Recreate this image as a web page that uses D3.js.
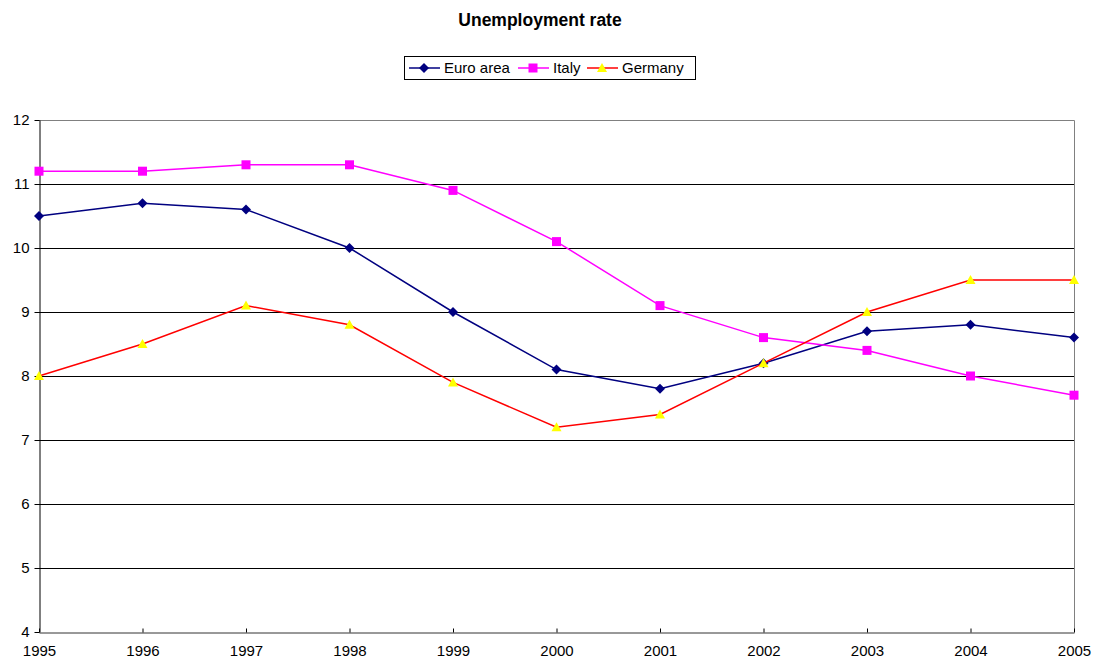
<!DOCTYPE html>
<html lang="en">
<head>
<meta charset="utf-8">
<script src="https://d3js.org/d3.v7.min.js"></script>
<style>
  body { margin: 0; background: #fff; }
  svg { font-family: "Liberation Sans", Arial, sans-serif; }
</style>
</head>
<body>
<svg width="1096" height="661"></svg>
<script>
  var years = [1995, 1996, 1997, 1998, 1999, 2000, 2001, 2002, 2003, 2004, 2005];
  var euroArea = [10.5, 10.7, 10.6, 10.0, 9.0, 8.1, 7.8, 8.2, 8.7, 8.8, 8.6];
  var italy = [11.2, 11.2, 11.3, 11.3, 10.9, 10.1, 9.1, 8.6, 8.4, 8.0, 7.7];
  var germany = [8.0, 8.5, 9.1, 8.8, 7.9, 7.2, 7.4, 8.2, 9.0, 9.5, 9.5];
  var yTicks = [4, 5, 6, 7, 8, 9, 10, 11, 12];

  var series = [
    { name: "Euro area", values: euroArea, line: "#000080", fill: "#000080", shape: "diamond" },
    { name: "Italy", values: italy, line: "#ff00ff", fill: "#ff00ff", shape: "square" },
    { name: "Germany", values: germany, line: "#ff0000", fill: "#ffff00", shape: "triangle" }
  ];

  var svg = d3.select("svg");
  var plotLeft = 39, plotRight = 1074, plotTop = 120, plotBottom = 632;

  var x = d3.scalePoint().domain(years).range([plotLeft, plotRight]);
  var y = d3.scaleLinear().domain([4, 12]).range([plotBottom, plotTop]);

  // title
  svg.append("text")
    .attr("x", 540).attr("y", 26)
    .attr("text-anchor", "middle")
    .attr("font-weight", "bold")
    .attr("font-size", "17.5px")
    .text("Unemployment rate");

  // gridlines
  svg.append("g")
    .selectAll("line")
    .data(yTicks.filter(function (d) { return d > 4 && d < 12; }))
    .enter().append("line")
    .attr("x1", plotLeft).attr("x2", plotRight)
    .attr("y1", function (d) { return y(d) + 0.5; })
    .attr("y2", function (d) { return y(d) + 0.5; })
    .attr("stroke", "#000").attr("stroke-width", 1);

  // top and right border
  svg.append("path")
    .attr("d", "M" + plotLeft + "," + (plotTop + 0.5) + "H" + (plotRight + 0.5) + "V" + plotBottom)
    .attr("fill", "none").attr("stroke", "#808080");

  // y axis
  var yAxis = svg.append("g")
    .attr("transform", "translate(" + (plotLeft + 0.5) + ",0)")
    .call(d3.axisLeft(y).tickValues(yTicks).tickSize(5).tickPadding(5).tickFormat(d3.format("d")).tickSizeOuter(0));
  yAxis.select(".domain").attr("stroke", "#000");
  yAxis.selectAll("text").attr("font-size", "15px").attr("fill", "#000")
    .attr("font-family", "Liberation Sans, Arial, sans-serif");

  // x axis
  var xAxis = svg.append("g")
    .attr("transform", "translate(0," + (plotBottom + 0.5) + ")")
    .call(d3.axisBottom(x).tickSize(-4).tickPadding(13).tickSizeOuter(0));
  xAxis.select(".domain").attr("stroke", "#333");
  xAxis.selectAll("text").attr("font-size", "15px").attr("fill", "#000")
    .attr("font-family", "Liberation Sans, Arial, sans-serif");

  var line = d3.line()
    .x(function (d, i) { return x(years[i]); })
    .y(function (d) { return y(d); });

  function marker(g, shape, fill) {
    if (shape === "diamond") {
      g.append("path").attr("d", "M0,-5L5,0L0,5L-5,0Z").attr("fill", fill);
    } else if (shape === "square") {
      g.append("rect").attr("x", -4.5).attr("y", -4.5).attr("width", 9).attr("height", 9).attr("fill", fill);
    } else {
      g.append("path").attr("d", "M0,-5L5,4L-5,4Z").attr("fill", fill);
    }
  }

  series.forEach(function (s) {
    svg.append("path")
      .datum(s.values)
      .attr("d", line)
      .attr("fill", "none")
      .attr("stroke", s.line)
      .attr("stroke-width", 1.5);
    s.values.forEach(function (v, i) {
      var g = svg.append("g").attr("transform", "translate(" + x(years[i]) + "," + y(v) + ")");
      marker(g, s.shape, s.fill);
    });
  });

  // legend
  var legend = svg.append("g");
  legend.append("rect")
    .attr("x", 404.5).attr("y", 56.5).attr("width", 291).attr("height", 23)
    .attr("fill", "#fff").attr("stroke", "#000");
  var legendX = [409, 518, 587];
  series.forEach(function (s, i) {
    var lx = legendX[i];
    legend.append("line")
      .attr("x1", lx).attr("x2", lx + 31).attr("y1", 68).attr("y2", 68)
      .attr("stroke", s.line).attr("stroke-width", 1.5);
    var g = legend.append("g").attr("transform", "translate(" + (lx + 15) + ",68)");
    marker(g, s.shape, s.fill);
    legend.append("text")
      .attr("x", lx + 35).attr("y", 73)
      .attr("font-size", "15px")
      .text(s.name);
  });
</script>
</body>
</html>
